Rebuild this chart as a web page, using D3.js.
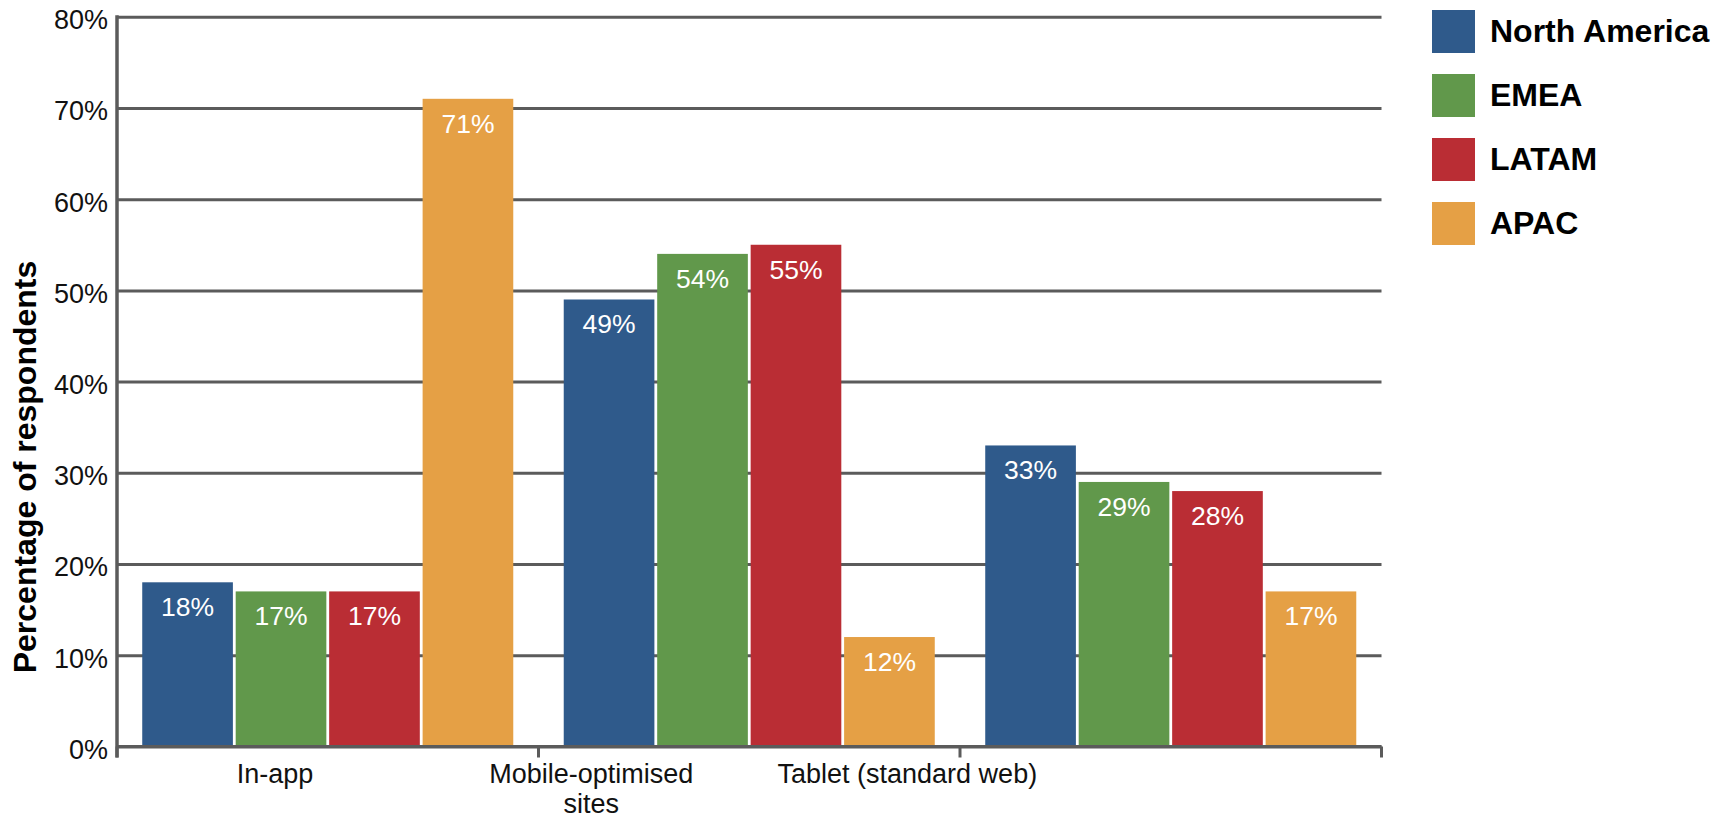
<!DOCTYPE html>
<html>
<head>
<meta charset="utf-8">
<script src="https://cdn.jsdelivr.net/npm/d3@7"></script>
<style>
  html, body { margin: 0; padding: 0; background: #ffffff; }
  svg { display: block; font-family: "Helvetica Neue", Helvetica, "Liberation Sans", Arial, sans-serif; }
</style>
</head>
<body>
<svg id="chart" width="1723" height="820"></svg>
<script>
// Channel categories and their two-line axis labels
const categories = ["In-app", "Mobile-optimised sites", "Tablet (standard web)"];
const categoryLines = [["In-app"], ["Mobile-optimised", "sites"], ["Tablet (standard web)"]];

// Regions (series) and their colours
const regions = ["North America", "EMEA", "LATAM", "APAC"];
const regionColors = ["#2f5a8b", "#61984b", "#ba2d34", "#e5a045"];

// Share of respondents (%) per category, one array per region
const northAmerica = [18, 49, 33];
const emea = [17, 54, 29];
const latam = [17, 55, 28];
const apac = [71, 12, 17];
const seriesValues = [northAmerica, emea, latam, apac];

// Value-axis ticks
const yTicks = [0, 10, 20, 30, 40, 50, 60, 70, 80];

const svg = d3.select("#chart");
const plot = { left: 117, right: 1381.5, top: 16.7, bottom: 746.5 };
const gridColor = "#5b5b5b";

const y = d3.scaleLinear().domain([0, 80]).range([plot.bottom, plot.top]);
const x0 = d3.scaleBand().domain(categories).range([plot.left, plot.right]).padding(0);
const x1 = d3.scaleBand().domain(regions).range([0, x0.bandwidth()])
  .paddingInner(0.03).paddingOuter(0.27);
// Category captions sit on a finer grid of slots along the same axis
const xCaption = d3.scaleBand().domain(d3.range(categories.length + 1)).range([plot.left, plot.right]);
const color = d3.scaleOrdinal().domain(regions).range(regionColors);

// Gridlines + value tick labels
const yAxis = svg.append("g")
  .attr("transform", `translate(${plot.left},0)`)
  .call(d3.axisLeft(y).tickValues(yTicks).tickFormat(d => d + "%")
    .tickSize(-(plot.right - plot.left)).tickPadding(9));
yAxis.select(".domain").remove();
yAxis.selectAll(".tick line").attr("stroke", gridColor).attr("stroke-width", 3);
yAxis.selectAll(".tick text")
  .attr("dy", "0.44em")
  .attr("fill", "#111")
  .style("font-size", "27px")
  .style("font-family", "\"Helvetica Neue\", Helvetica, \"Liberation Sans\", Arial, sans-serif");

// Bars
const rows = categories.map((c, ci) => regions.map((r, ri) => ({ category: c, region: r, value: seriesValues[ri][ci] })));
const groups = svg.append("g").selectAll("g")
  .data(rows).join("g")
  .attr("transform", d => `translate(${x0(d[0].category)},0)`);

groups.selectAll("rect")
  .data(d => d).join("rect")
  .attr("x", d => x1(d.region))
  .attr("y", d => y(d.value))
  .attr("width", x1.bandwidth())
  .attr("height", d => y(0) - y(d.value))
  .attr("fill", d => color(d.region));

groups.selectAll("text")
  .data(d => d).join("text")
  .attr("x", d => x1(d.region) + x1.bandwidth() / 2)
  .attr("y", d => y(d.value) + 34)
  .attr("text-anchor", "middle")
  .attr("fill", "#ffffff")
  .style("font-size", "26.5px")
  .text(d => d.value + "%");

// Category axis: baseline, boundary ticks, captions
const axisG = svg.append("g");
axisG.append("line")
  .attr("x1", plot.left).attr("x2", plot.right)
  .attr("y1", y(0)).attr("y2", y(0))
  .attr("stroke", gridColor).attr("stroke-width", 3);
const boundaries = categories.map(c => x0(c)).concat([x0.range()[1]]);
axisG.selectAll("line.tick")
  .data(boundaries).join("line")
  .attr("class", "tick")
  .attr("x1", d => d).attr("x2", d => d)
  .attr("y1", y(0)).attr("y2", y(0) + 11)
  .attr("stroke", gridColor).attr("stroke-width", 3);
axisG.append("line")
  .attr("x1", plot.left).attr("x2", plot.left)
  .attr("y1", y(80) - 1.5).attr("y2", y(0) + 11)
  .attr("stroke", gridColor).attr("stroke-width", 3.5);

const captions = axisG.selectAll("text.caption")
  .data(categoryLines).join("text")
  .attr("class", "caption")
  .attr("text-anchor", "middle")
  .attr("fill", "#111")
  .style("font-size", "27px")
  .attr("transform", (d, i) => `translate(${xCaption(i) + xCaption.bandwidth() / 2},${y(0) + 36.5})`);
captions.selectAll("tspan")
  .data(d => d).join("tspan")
  .attr("x", 0)
  .attr("y", (d, i) => i * 30)
  .text(d => d);

// Value axis title
svg.append("text")
  .attr("transform", "translate(36,467) rotate(-90)")
  .attr("text-anchor", "middle")
  .attr("fill", "#000")
  .style("font-size", "32px")
  .style("font-weight", "bold")
  .text("Percentage of respondents");

// Legend
const legend = svg.append("g").selectAll("g")
  .data(regions).join("g")
  .attr("transform", (d, i) => `translate(1432,${10 + i * 64})`);
legend.append("rect")
  .attr("width", 43).attr("height", 43)
  .attr("fill", d => color(d));
legend.append("text")
  .attr("x", 58).attr("y", 31.7)
  .attr("fill", "#000")
  .style("font-size", "32px")
  .style("font-weight", "bold")
  .text(d => d);
</script>
</body>
</html>
